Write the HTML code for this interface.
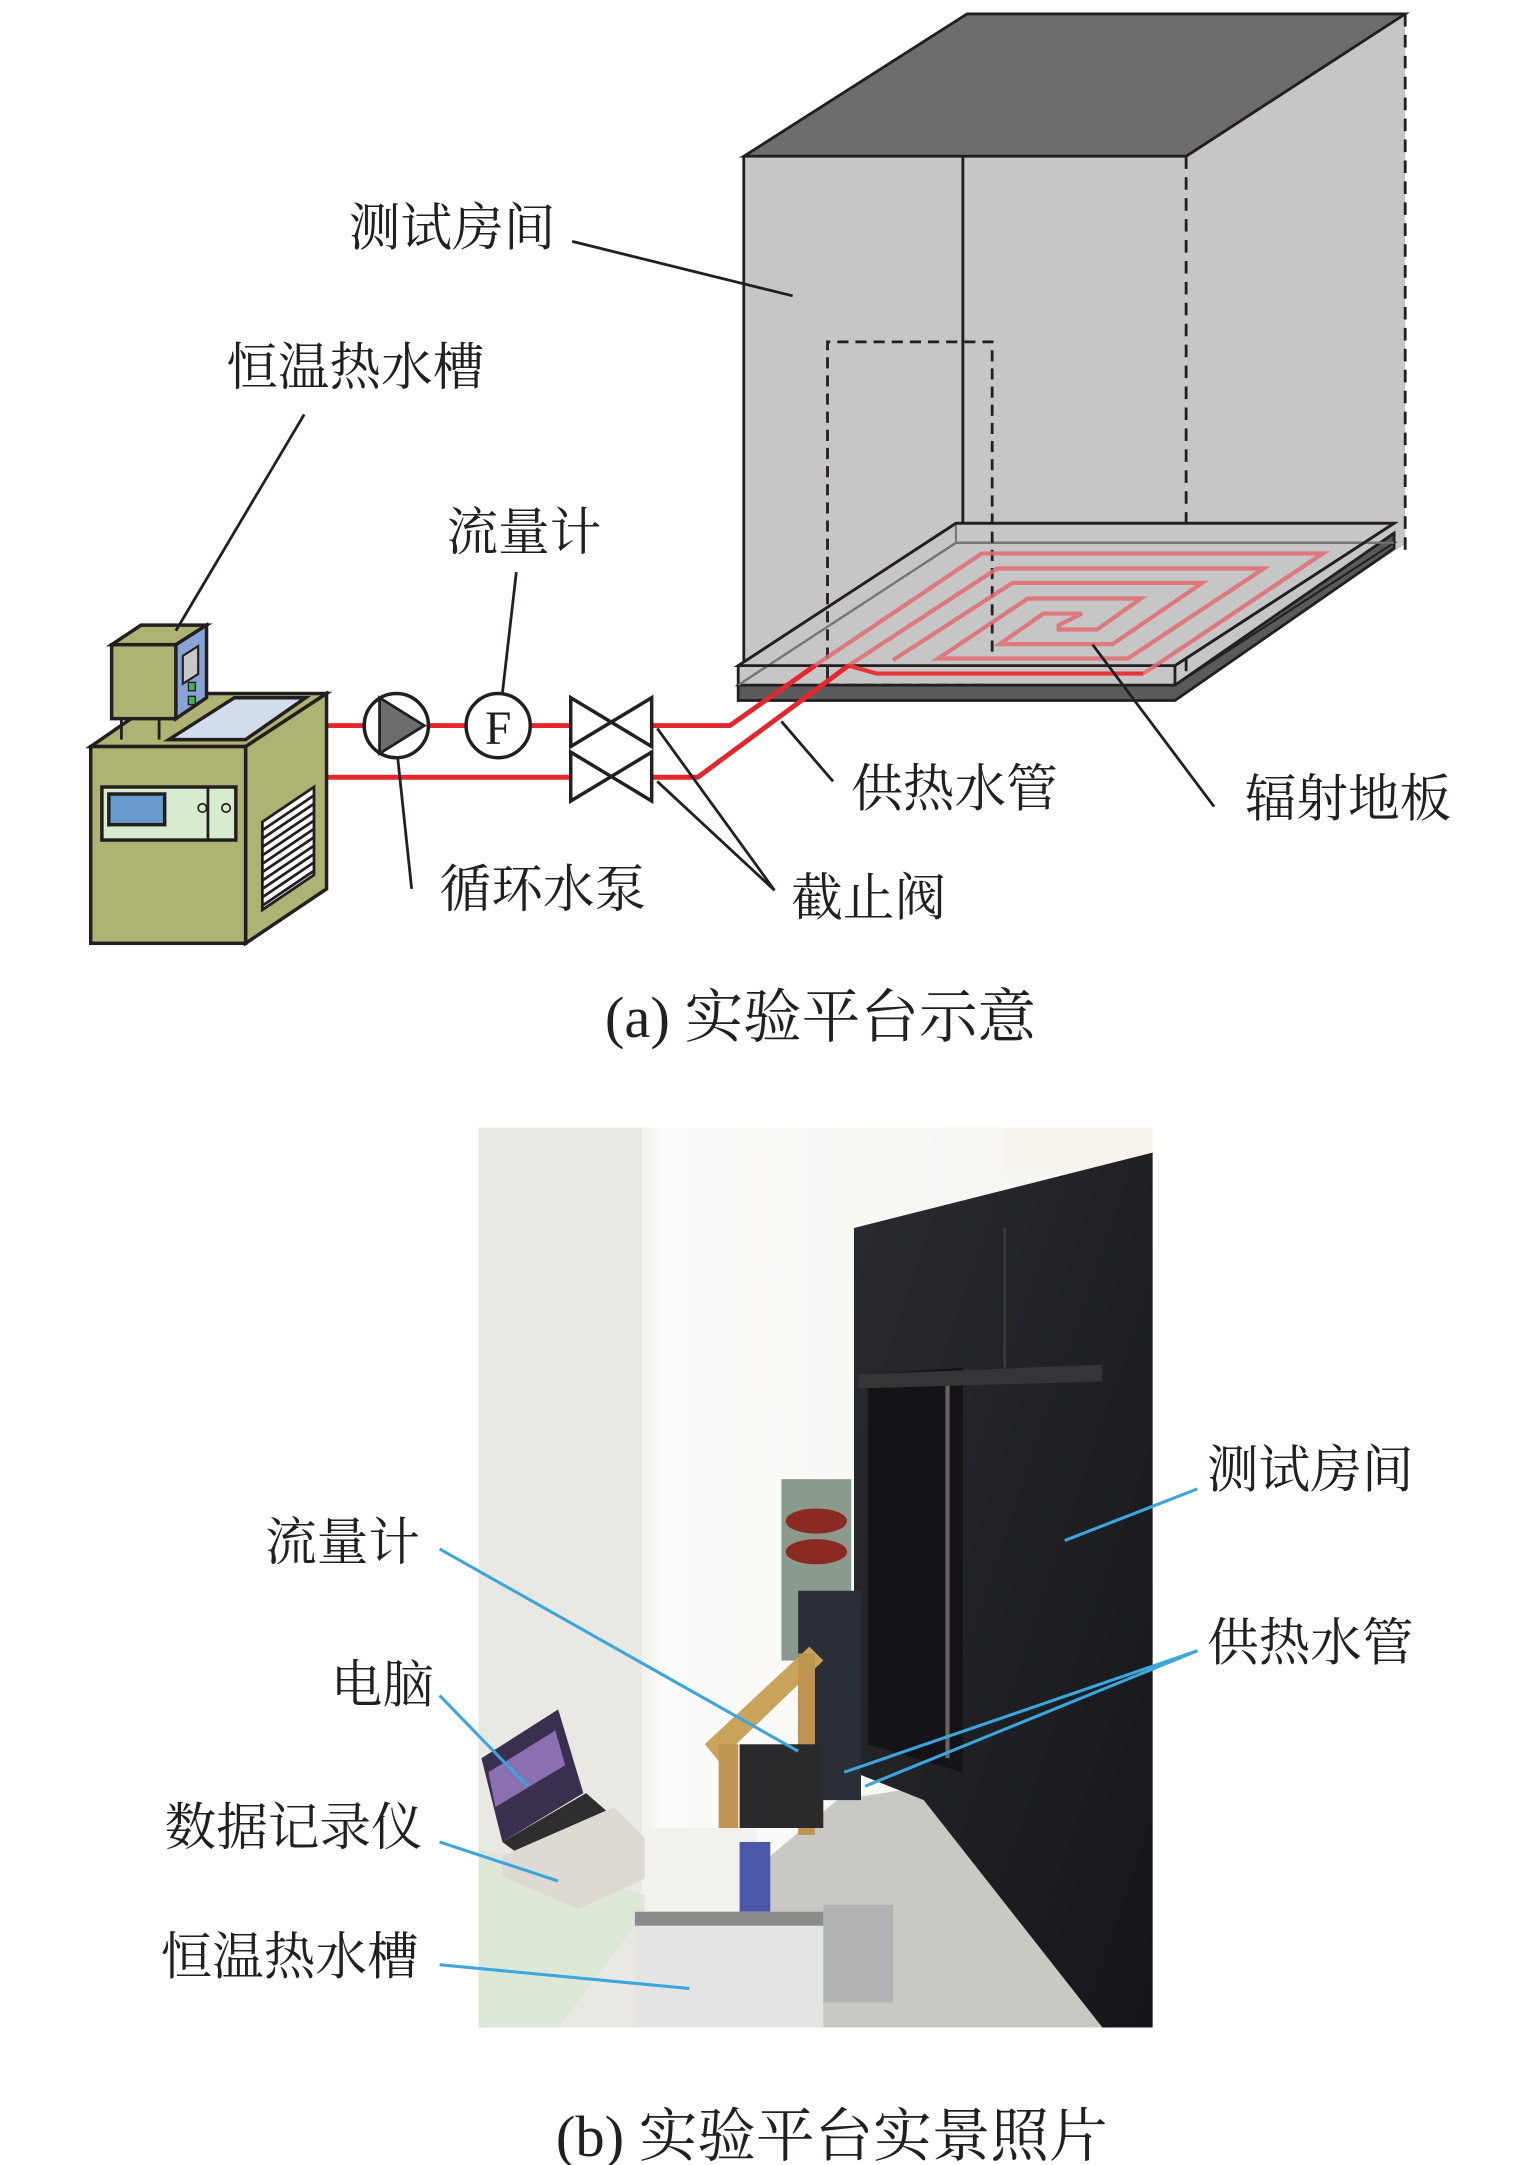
<!DOCTYPE html>
<html><head><meta charset="utf-8">
<style>
html,body{margin:0;padding:0;background:#fff;}
svg{display:block;}
text{font-family:"Liberation Serif","Noto Serif CJK SC",serif;fill:#231f20;}
</style></head>
<body>
<svg width="1535" height="2165" viewBox="0 0 1100 1551.5" xmlns="http://www.w3.org/2000/svg">
<defs>
<linearGradient id="wall" x1="0" x2="1" y1="0" y2="0">
<stop offset="0" stop-color="#ecebe6"/><stop offset="0.25" stop-color="#f3f2ee"/><stop offset="0.27" stop-color="#fbfbf9"/><stop offset="1" stop-color="#f4f3ef"/>
</linearGradient>
<linearGradient id="blk" x1="0" x2="1" y1="0" y2="1">
<stop offset="0" stop-color="#2a2b30"/><stop offset="1" stop-color="#16161a"/>
</linearGradient>
</defs>

<!-- ROOM -->
<polygon points="533,112 693,10 1007,10 850,112" fill="#6e6d6e" stroke="#231f20" stroke-width="2"/>
<polygon points="850,112 1007,10 1007,390 850,492" fill="#c6c6c6"/>
<rect x="533" y="112" width="317" height="380" fill="#c6c6c6"/>
<line x1="533" y1="112" x2="533" y2="492" stroke="#231f20" stroke-width="2"/>
<line x1="533" y1="112" x2="850" y2="112" stroke="#231f20" stroke-width="2"/>
<line x1="850" y1="112" x2="1007" y2="10" stroke="#231f20" stroke-width="2"/>
<line x1="690" y1="112" x2="690" y2="380" stroke="#231f20" stroke-width="2"/>
<line x1="850" y1="112" x2="850" y2="492" stroke="#231f20" stroke-width="2" stroke-dasharray="9,6"/>
<line x1="1007" y1="10" x2="1007" y2="395" stroke="#231f20" stroke-width="2" stroke-dasharray="9,6"/>
<!-- floor slab -->
<polygon points="529,491 529,502 842,502 999,393 999,382 842,491" fill="#5a5a5c" stroke="#231f20" stroke-width="2"/>
<polygon points="529,477 685,375 999,375 842,477 842,491 529,491" fill="#c6c6c6" stroke="#231f20" stroke-width="2"/>
<polygon points="529,491 685,389 999,389 842,491" fill="none" stroke="#231f20" stroke-width="1.5"/>
<line x1="685" y1="375" x2="685" y2="389" stroke="#777" stroke-width="1.5"/>
<line x1="685" y1="389" x2="999" y2="389" stroke="#777" stroke-width="1.5"/>
<line x1="685" y1="389" x2="529" y2="491" stroke="#777" stroke-width="1.5"/>
<polygon points="529,477 685,375 999,375 842,477" fill="none" stroke="#231f20" stroke-width="2"/>
<!-- door dashed -->
<polyline points="593,472 593,245 711,245 711,470" fill="none" stroke="#231f20" stroke-width="2" stroke-dasharray="8,5"/>
<line x1="593" y1="491" x2="711" y2="491" stroke="#231f20" stroke-width="2" stroke-dasharray="8,5"/>
<line x1="593" y1="477" x2="593" y2="491" stroke="#231f20" stroke-width="2"/>
<!-- spiral -->
<polyline fill="none" stroke="#e06a6e" stroke-opacity="0.85" stroke-width="3"
 points="584,477 703.6,396.6 948,396.6 819.4,482.7"/>
<polyline fill="none" stroke="#e06a6e" stroke-opacity="0.85" stroke-width="3"
 points="608,477 714.6,407.4 905.7,407.4 808.3,471.9 672.3,471.9 736.6,428.9 817.5,428.9 786.3,451.1 758.7,451.1 758.7,448 775.2,439.7 747.7,439.7 716.4,461.6 797.3,461.6 861.6,417.7 725.6,417.7 640,473"/>
<polyline fill="none" stroke="#e5353a" stroke-width="3" points="819.4,482.7 628.2,482.7 608,477"/>

<!-- pipes -->
<polyline points="230,520 409,520" fill="none" stroke="#e5262c" stroke-width="3.5"/>
<polyline points="467,520 523,520 584,477" fill="none" stroke="#e5262c" stroke-width="3.5"/>
<polyline points="230,557 409,557" fill="none" stroke="#e5262c" stroke-width="3.5"/>
<polyline points="467,557 500,557 608,477" fill="none" stroke="#e5262c" stroke-width="3.5"/>
<circle cx="229" cy="520" r="4.5" fill="#e5262c"/>
<circle cx="229" cy="557" r="4.5" fill="#e5262c"/>
<!-- pump -->
<circle cx="284" cy="520" r="23" fill="#fff" stroke="#231f20" stroke-width="2.5"/>
<polygon points="272,500 272,540 304,520" fill="#6e6d6e" stroke="#231f20" stroke-width="2"/>
<!-- flowmeter -->
<circle cx="357" cy="520" r="23" fill="#fff" stroke="#231f20" stroke-width="2.5"/>
<text x="357" y="533" font-size="34" text-anchor="middle">F</text>
<!-- valves -->
<polygon points="409,500 409,535 467,500 467,535" fill="#fff" stroke="#231f20" stroke-width="2.5"/>
<polygon points="409,539 409,574 467,539 467,574" fill="#fff" stroke="#231f20" stroke-width="2.5"/>

<!-- tank -->
<polygon points="65,535 120,497 234,497 176,535" fill="#aeb272" stroke="#231f20" stroke-width="2.5"/>
<polygon points="176,535 234,497 234,637 176,676" fill="#aeb272" stroke="#231f20" stroke-width="2.5"/>
<rect x="65" y="535" width="111" height="141" fill="#aeb272" stroke="#231f20" stroke-width="2.5"/>
<polygon points="121,530 168,500 219,500 176,530" fill="#d2dcea" stroke="#231f20" stroke-width="2.5"/>
<rect x="73" y="564" width="96" height="38" fill="#d8ebce" stroke="#231f20" stroke-width="2.5"/>
<line x1="149" y1="564" x2="149" y2="602" stroke="#231f20" stroke-width="2"/>
<rect x="78" y="569" width="40" height="22" fill="#6a9bcf" stroke="#231f20" stroke-width="2.5"/>
<circle cx="145" cy="579" r="3" fill="none" stroke="#231f20" stroke-width="1.2"/>
<circle cx="162" cy="579" r="3" fill="none" stroke="#231f20" stroke-width="1.2"/>
<polygon points="188,589 225,564 225,627 188,652" fill="#fff" stroke="#231f20" stroke-width="2"/>
<g stroke="#231f20" stroke-width="2">
<line x1="188" y1="595" x2="225" y2="570"/><line x1="188" y1="601" x2="225" y2="576"/><line x1="188" y1="607" x2="225" y2="582"/>
<line x1="188" y1="613" x2="225" y2="588"/><line x1="188" y1="619" x2="225" y2="594"/><line x1="188" y1="625" x2="225" y2="600"/>
<line x1="188" y1="631" x2="225" y2="606"/><line x1="188" y1="637" x2="225" y2="612"/><line x1="188" y1="643" x2="225" y2="618"/>
<line x1="188" y1="649" x2="225" y2="624"/>
</g>
<!-- controller -->
<line x1="87" y1="515" x2="87" y2="530" stroke="#231f20" stroke-width="2"/>
<line x1="114" y1="515" x2="114" y2="530" stroke="#231f20" stroke-width="2"/>
<polygon points="80,462 101,448 148,448 126,462" fill="#aeb272" stroke="#231f20" stroke-width="2.5"/>
<polygon points="126,462 148,448 148,500 126,515" fill="#8aa3d6" stroke="#231f20" stroke-width="2.5"/>
<rect x="80" y="462" width="46" height="53" fill="#aeb272" stroke="#231f20" stroke-width="2.5"/>
<polygon points="131,470 142,463 142,483 131,490" fill="#c8c8c8" stroke="#231f20" stroke-width="1.5"/>
<rect x="135" y="489" width="5" height="6" fill="#3bb54a" stroke="#231f20"/>
<rect x="135" y="499" width="5" height="6" fill="#3bb54a" stroke="#231f20"/>

<!-- leader lines (a) -->
<g stroke="#231f20" stroke-width="2" fill="none">
<line x1="410" y1="173" x2="568" y2="212"/>
<line x1="218" y1="297" x2="126" y2="452"/>
<line x1="370" y1="410" x2="360" y2="497"/>
<line x1="295" y1="637" x2="285" y2="543"/>
<line x1="555" y1="638" x2="471" y2="522"/>
<line x1="555" y1="638" x2="471" y2="560"/>
<line x1="597" y1="560" x2="560" y2="517"/>
<line x1="870" y1="578" x2="783" y2="462"/>
</g>
<g font-size="37">
<text x="250" y="176">测试房间</text>
<text x="162" y="276">恒温热水槽</text>
<text x="320" y="394">流量计</text>
<text x="315" y="650">循环水泵</text>
<text x="567" y="656">截止阀</text>
<text x="610" y="578">供热水管</text>
<text x="892" y="585">辐射地板</text>
</g>
<text x="588" y="743" font-size="42" text-anchor="middle">(a) 实验平台示意</text>

<!-- PHOTO -->
<rect x="343" y="808" width="483" height="645" fill="url(#wall)"/>
<rect x="343" y="808" width="117" height="645" fill="#e9e8e2"/>
<rect x="720" y="808" width="106" height="30" fill="#f7f3ea"/>
<polygon points="600,1290 665,1280 790,1453 560,1453 540,1340" fill="#c9c8c3"/>
<polygon points="612,880 826,826 826,1453 790,1453 662,1290 612,1270" fill="url(#blk)"/>
<polygon points="622,985 690,980 690,1270 622,1250" fill="#141418"/>
<line x1="679" y1="990" x2="679" y2="1260" stroke="#6a6360" stroke-width="3"/>
<polygon points="615,985 790,978 790,990 615,995" fill="#353538"/>
<line x1="720" y1="880" x2="720" y2="980" stroke="#3a3b40" stroke-width="2"/>
<rect x="560" y="1060" width="50" height="130" fill="#8a9a8c"/>
<ellipse cx="585" cy="1090" rx="22" ry="9" fill="#8a2a22"/>
<ellipse cx="585" cy="1112" rx="22" ry="9" fill="#8a2a22"/>
<rect x="572" y="1140" width="45" height="150" fill="#2a2e36"/>
<polygon points="343,1325 470,1360 400,1453 343,1453" fill="#dde7d8"/>
<polygon points="345,1260 400,1225 418,1285 360,1320" fill="#3a2f4e"/>
<polygon points="350,1270 398,1240 405,1265 355,1295" fill="#8a6fb3"/>
<polygon points="360,1320 420,1285 460,1320 400,1350" fill="#2e2e30"/>
<polygon points="360,1330 440,1295 465,1320 465,1345 415,1368 360,1345" fill="#dcdad2"/>
<polygon points="505,1250 580,1180 590,1190 515,1262" fill="#caa35a"/>
<rect x="515" y="1250" width="14" height="95" fill="#c09450"/>
<rect x="572" y="1185" width="12" height="130" fill="#c09450"/>
<rect x="530" y="1250" width="60" height="60" fill="#2a2a2c"/>
<rect x="462" y="1310" width="80" height="60" fill="#f1f1ee"/>
<rect x="530" y="1320" width="22" height="60" fill="#4a58a8"/>
<rect x="455" y="1370" width="135" height="83" fill="#e4e4e2"/>
<rect x="455" y="1370" width="135" height="10" fill="#8b8b8b"/>
<rect x="590" y="1365" width="50" height="70" fill="#b0b2b4"/>
<g stroke="#3aa6dd" stroke-width="2.2" fill="none">
<line x1="858" y1="1067" x2="763" y2="1104"/>
<line x1="858" y1="1183" x2="605" y2="1270"/>
<line x1="858" y1="1183" x2="620" y2="1280"/>
<line x1="315" y1="1110" x2="572" y2="1255"/>
<line x1="315" y1="1215" x2="378" y2="1280"/>
<line x1="315" y1="1320" x2="400" y2="1348"/>
<line x1="315" y1="1408" x2="494" y2="1425"/>
</g>
<g font-size="37">
<text x="865" y="1066">测试房间</text>
<text x="865" y="1190">供热水管</text>
<text x="190" y="1118">流量计</text>
<text x="237" y="1220">电脑</text>
<text x="118" y="1322">数据记录仪</text>
<text x="115" y="1415">恒温热水槽</text>
</g>
<text x="596" y="1545" font-size="42" text-anchor="middle">(b) 实验平台实景照片</text>
</svg>
</body></html>
